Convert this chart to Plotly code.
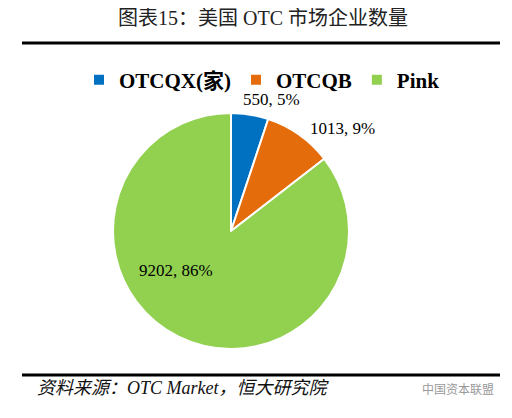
import plotly.graph_objects as go

# page body has an 8px default margin, so the figure is drawn 8px in
PAD = 8
W, H = 512 - PAD, 418 - PAD

categories = ["OTCQX(家)", "OTCQB", "Pink"]
values = [550, 1013, 9202]
percents = [5, 9, 86]
colors = ["#0070C0", "#E46C0A", "#92D050"]


def px_x(px):
    return (px - PAD) / W


def px_y(py):
    return 1 - (py - PAD) / H


# pie centre (231, 231), radius ~118 in screenshot pixels
cx, cy, r = 231, 231, 118

fig = go.Figure(
    go.Pie(
        labels=categories,
        values=values,
        sort=False,
        direction="clockwise",
        rotation=0,
        marker=dict(colors=colors, line=dict(color="white", width=2)),
        textinfo="none",
        hoverinfo="label+value+percent",
        domain=dict(x=[px_x(cx - r), px_x(cx + r)], y=[px_y(cy + r), px_y(cy - r)]),
    )
)

# data labels, placed like the original
label_pos = [(271, 100), (342, 128), (176, 270)]
for v, pc, (lx, ly) in zip(values, percents, label_pos):
    fig.add_annotation(
        x=px_x(lx), y=px_y(ly), xref="paper", yref="paper",
        xanchor="center", yanchor="middle",
        text=f"{v}, {pc}%", showarrow=False,
        font=dict(family="Liberation Serif", size=17, color="black"),
    )

serif_cjk = "Liberation Serif, Noto Sans CJK SC"

fig.add_annotation(
    x=px_x(263), y=px_y(18), xref="paper", yref="paper",
    xanchor="center", yanchor="middle",
    text="图表15：美国 OTC 市场企业数量", showarrow=False,
    font=dict(family=serif_cjk, size=20, color="#222"),
)
fig.add_annotation(
    x=px_x(35), y=px_y(388), xref="paper", yref="paper",
    xanchor="left", yanchor="middle",
    text="<i>资料来源：OTC Market，恒大研究院</i>", showarrow=False,
    font=dict(family=serif_cjk, size=18, color="#111"),
)
fig.add_annotation(
    x=px_x(496), y=px_y(388), xref="paper", yref="paper",
    xanchor="right", yanchor="middle",
    text="中国资本联盟", showarrow=False,
    font=dict(family="Noto Sans CJK SC", size=12, color="#999"),
)

for yy in (43, 375):
    fig.add_shape(
        type="line", xref="paper", yref="paper",
        x0=px_x(22), x1=px_x(500), y0=px_y(yy), y1=px_y(yy),
        line=dict(color="black", width=3),
    )

fig.update_layout(
    width=W, height=H,
    margin=dict(l=0, r=0, t=0, b=0),
    paper_bgcolor="white",
    plot_bgcolor="white",
    legend=dict(
        orientation="h",
        x=px_x(262), xanchor="center",
        y=px_y(80), yanchor="middle",
        font=dict(family=serif_cjk, size=21, color="black", weight="bold"),
        itemsizing="constant",
        itemwidth=30,
        bgcolor="rgba(0,0,0,0)",
    ),
)

fig.write_html("out.html")
